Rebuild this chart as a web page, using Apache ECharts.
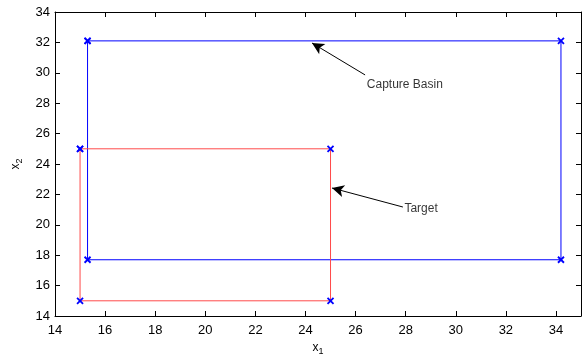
<!DOCTYPE html>
<html>
<head>
<meta charset="utf-8">
<script src="https://cdn.jsdelivr.net/npm/echarts@6/dist/echarts.min.js"></script>
<style>
  html, body { margin: 0; padding: 0; background: #fff; }
  #chart { width: 587px; height: 354px; }
</style>
</head>
<body>
<div id="chart"></div>
<script>
// rectangle corners, closed (x1, x2)
var basinX = [15.3, 34.2, 34.2, 15.3, 15.3];
var basinY = [32.1, 32.1, 17.7, 17.7, 32.1];
var targetX = [15, 25, 25, 15, 15];
var targetY = [25, 25, 15, 15, 25];

// annotations: label, text anchor, arrow tail, arrow head
var notes = [
    { text: 'Capture Basin', at: [26.45, 29.2], from: [26.38, 29.86], to: [24.26, 31.96] },
    { text: 'Target', at: [27.95, 21.05], from: [27.89, 21.17], to: [25.06, 22.42] }
];

var xTicks = [14, 16, 18, 20, 22, 24, 26, 28, 30, 32, 34];
var yTicks = [14, 16, 18, 20, 22, 24, 26, 28, 30, 32, 34];

var font = 'Liberation Sans, Arial, Helvetica, sans-serif';
var crossMark = 'path://M0,0L10,10M10,0L0,10';

function pairs(xs, ys) {
    return xs.map(function(x, i) { return [x, ys[i]]; });
}

var chart = echarts.init(document.getElementById('chart'));

var tickAxis = {
    type: 'value',
    interval: 2,
    axisLine: { show: true, lineStyle: { color: '#000', width: 1 } },
    axisTick: { show: true, inside: true, length: 5, lineStyle: { color: '#000' } },
    splitLine: { show: false }
};

var subRich = {
    a: { fontFamily: font, fontSize: 12, color: '#000' },
    b: { fontFamily: font, fontSize: 9, color: '#000', padding: [7, 0, 0, 0] }
};

var option = {
    animation: false,
    backgroundColor: '#fff',
    grid: { left: 55, right: 6, top: 12, bottom: 38, outerBoundsMode: 'none', containLabel: false },
    xAxis: [
        Object.assign({}, tickAxis, {
            min: 14, max: 35, position: 'bottom',
            axisLabel: {
                color: '#000', fontFamily: font, fontSize: 13, margin: 8,
                formatter: function(v) { return xTicks.indexOf(v) >= 0 ? String(v) : ''; }
            },
            name: '{a|x}{b|1}',
            nameLocation: 'middle',
            nameGap: 24,
            nameTextStyle: { rich: subRich }
        }),
        Object.assign({}, tickAxis, {
            min: 14, max: 35, position: 'top',
            axisLabel: { show: false }
        })
    ],
    yAxis: [
        Object.assign({}, tickAxis, {
            min: 14, max: 34, position: 'left',
            axisLabel: {
                color: '#000', fontFamily: font, fontSize: 13, margin: 5,
                formatter: function(v) { return yTicks.indexOf(v) >= 0 ? String(v) : ''; }
            },
            name: '{a|x}{b|2}',
            nameLocation: 'middle',
            nameGap: 31,
            nameTextStyle: { rich: subRich }
        }),
        Object.assign({}, tickAxis, {
            min: 14, max: 34, position: 'right',
            axisLabel: { show: false }
        })
    ],
    series: [
        {
            type: 'line',
            data: pairs(basinX, basinY),
            lineStyle: { color: '#0000ff', width: 1 },
            symbol: crossMark,
            symbolSize: 6,
            itemStyle: { color: 'none', borderColor: '#0000ff', borderWidth: 1.8 },
            z: 2
        },
        {
            type: 'line',
            data: pairs(targetX, targetY),
            lineStyle: { color: '#ff4a4a', width: 1 },
            symbol: crossMark,
            symbolSize: 6,
            itemStyle: { color: 'none', borderColor: '#0000ff', borderWidth: 1.8 },
            z: 3
        },
        {
            type: 'scatter',
            symbolSize: 0,
            data: notes.map(function(n) { return { value: n.at, name: n.text }; }),
            label: {
                show: true,
                position: 'right',
                distance: 0,
                formatter: '{b}',
                color: '#000',
                fontFamily: font,
                fontSize: 12
            },
            markLine: {
                silent: true,
                symbol: ['none', 'arrow'],
                symbolSize: [9, 12],
                label: { show: false },
                lineStyle: { color: '#000', width: 1, type: 'solid' },
                data: notes.map(function(n) {
                    return [{ coord: n.from }, { coord: n.to }];
                })
            },
            z: 4
        }
    ]
};

chart.setOption(option);
</script>
</body>
</html>
